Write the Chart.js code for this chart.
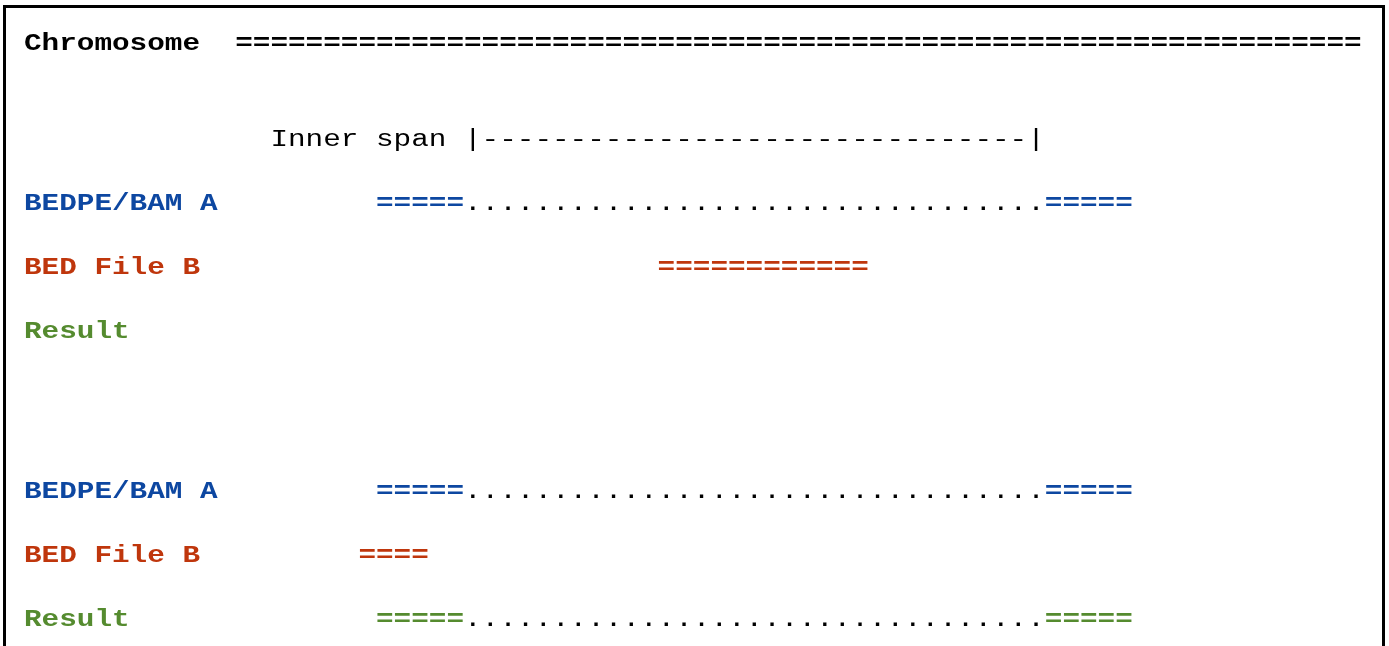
<!DOCTYPE html>
<html>
<head>
<meta charset="utf-8">
<script src="https://cdn.jsdelivr.net/npm/chart.js@4"></script>
<style>
  html, body { margin: 0; padding: 0; background: #fff; overflow: hidden; }
  #wrap { position: absolute; left: 0; top: 0; width: 1389px; height: 646px; }
  #frame {
    position: absolute; left: 3px; top: 5px; width: 1376px; height: 700px;
    border: 3px solid #000; border-bottom: none; pointer-events: none;
  }
</style>
</head>
<body>
<div id="wrap"><canvas id="diagram"></canvas></div>
<div id="frame"></div>
<script>
// rows of the diagram, line position in half-line units
const rowLabels = ["Chromosome", "Inner span", "BEDPE/BAM A", "BED File B", "Result", "BEDPE/BAM A", "BED File B", "Result"];
const rowLines = [0, 3, 5, 7, 9, 14, 16, 18];

// intervals in character columns [start, end)
const chromSpan = [12, 76];
const innerSpan = [25, 57];          // the two "|" marks
const pairEnds = [[20, 25], [58, 63]];
const bedB = [[36, 48], [19, 23]];   // B interval for case 1 and case 2
const reported = [false, true];      // result row shows the pair?

const BLUE = "#0d47a1";
const ORANGE = "#bf360c";
const GREEN = "#558b2f";
const BLACK = "#000000";
const fontSize = 23;

const datasets = [];
function run(text, col, line, color, bold) {
    const chars = [...text];
    datasets.push({
        data: chars.map((c, k) => ({ x: col + k, y: line })),
        glyphs: chars,
        color: color,
        bold: bold,
        pointRadius: 0,
        showLine: false,
    });
}

// chromosome
run(rowLabels[0], 0, rowLines[0], BLACK, true);
run("=".repeat(chromSpan[1] - chromSpan[0]), chromSpan[0], rowLines[0], BLACK, true);

// inner span ruler
const spanLabel = rowLabels[1] + " ";
run(spanLabel, innerSpan[0] - spanLabel.length, rowLines[1], BLACK, false);
run("|" + "-".repeat(innerSpan[1] - innerSpan[0] - 1) + "|", innerSpan[0], rowLines[1], BLACK, false);

function pair(line, color) {
    run("=".repeat(pairEnds[0][1] - pairEnds[0][0]), pairEnds[0][0], line, color, true);
    run(".".repeat(pairEnds[1][0] - pairEnds[0][1]), pairEnds[0][1], line, BLACK, false);
    run("=".repeat(pairEnds[1][1] - pairEnds[1][0]), pairEnds[1][0], line, color, true);
}

[0, 1].forEach(function (c) {
    const base = 2 + c * 3;
    run(rowLabels[base], 0, rowLines[base], BLUE, true);
    pair(rowLines[base], BLUE);
    run(rowLabels[base + 1], 0, rowLines[base + 1], ORANGE, true);
    run("=".repeat(bedB[c][1] - bedB[c][0]), bedB[c][0], rowLines[base + 1], ORANGE, true);
    run(rowLabels[base + 2], 0, rowLines[base + 2], GREEN, true);
    if (reported[c]) pair(rowLines[base + 2], GREEN);
});

// draws each glyph at its point, stretched to fill one column
const glyphPlugin = {
    id: "glyphs",
    afterDatasetsDraw(chart) {
        const ctx = chart.ctx;
        const xs = chart.scales.x;
        const colW = xs.getPixelForValue(1) - xs.getPixelForValue(0);
        chart.data.datasets.forEach(function (ds, i) {
            const meta = chart.getDatasetMeta(i);
            ctx.save();
            ctx.font = (ds.bold ? "bold " : "") + fontSize + 'px "Liberation Mono", monospace';
            ctx.fillStyle = ds.color;
            ctx.textAlign = "left";
            ctx.textBaseline = "alphabetic";
            const adv = ctx.measureText("M").width;
            const cap = ctx.measureText("H").actualBoundingBoxAscent;
            const sx = colW / adv;
            meta.data.forEach(function (pt, j) {
                ctx.save();
                ctx.translate(pt.x, pt.y + cap / 2);
                ctx.scale(sx, 1);
                ctx.fillText(ds.glyphs[j], 0, 0);
                ctx.restore();
            });
            ctx.restore();
        });
    },
};

new Chart(document.getElementById("diagram"), {
    type: "scatter",
    data: { datasets: datasets },
    options: {
        responsive: true,
        maintainAspectRatio: false,
        animation: false,
        layout: { padding: 0 },
        plugins: { legend: { display: false }, tooltip: { enabled: false } },
        scales: {
            x: { type: "linear", display: false, min: -24 / 17.6, max: -24 / 17.6 + 1389 / 17.6 },
            y: { type: "linear", display: false, reverse: true, min: -42 / 32, max: -42 / 32 + 646 / 32 },
        },
    },
    plugins: [glyphPlugin],
});
</script>
</body>
</html>
